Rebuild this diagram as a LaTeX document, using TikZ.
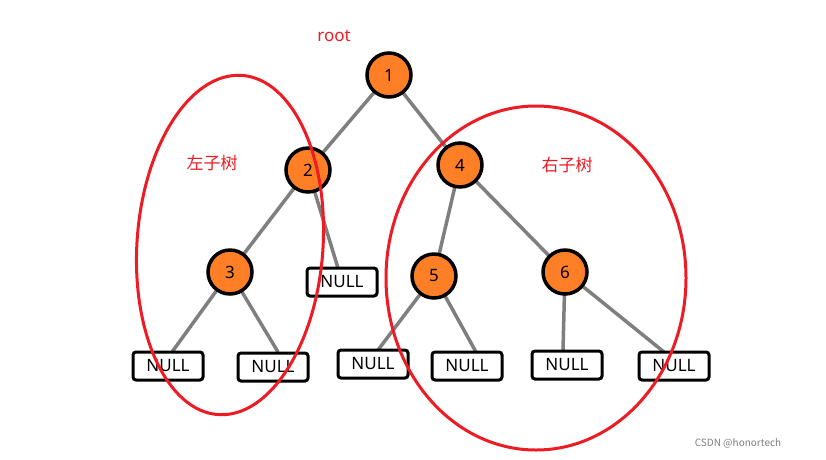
\documentclass[tikz,border=0pt]{standalone}
\usepackage{fontspec}
\setmainfont{Noto Sans}
\newfontfamily\cjk{Noto Sans CJK SC}
\definecolor{nodeor}{RGB}{255,127,39}
\definecolor{edgegr}{RGB}{127,127,127}
\definecolor{mark}{RGB}{237,28,36}
\begin{document}
\begin{tikzpicture}[x=1pt,y=-1pt,
  num/.style={circle, draw=black, line width=3.5pt, fill=nodeor, minimum size=44pt, inner sep=0pt, font=\fontsize{17}{17}\selectfont},
  nul/.style={draw=black, line width=3pt, rounded corners=3pt, fill=white, minimum width=70pt, minimum height=28pt, inner sep=0pt, font=\fontsize{17}{17}\selectfont},
  edge/.style={draw=edgegr, line width=3.5pt},
  ring/.style={draw=mark, line width=3pt},
  lbl/.style={text=mark, font=\cjk\fontsize{17}{17}\selectfont}]
\useasboundingbox (0,0) rectangle (826,459);
\fill[white] (0,0) rectangle (826,459);
% edges first
\coordinate (e1) at (389,75);
\coordinate (e2) at (308,170);
\coordinate (e4) at (460,165);
\coordinate (e3) at (230,272);
\coordinate (e5) at (434,276);
\coordinate (e6) at (565,272);
\draw[edge] (e1) -- (e2);
\draw[edge] (e1) -- (e4);
\draw[edge] (e2) -- (e3);
\draw[edge] (e2) -- (338,268);
\draw[edge] (e4) -- (e5);
\draw[edge] (e4) -- (e6);
\draw[edge] (e3) -- (172,352);
\draw[edge] (e3) -- (278,352);
\draw[edge] (e5) -- (378,350);
\draw[edge] (e5) -- (476,352);
\draw[edge] (e6) -- (563,350);
\draw[edge] (e6) -- (664,352);
% tree nodes
\node[num] (n1) at (e1) {1};
\node[num] (n2) at (e2) {2};
\node[num] (n4) at (e4) {4};
\node[num] (n3) at (e3) {3};
\node[num] (n5) at (e5) {5};
\node[num] (n6) at (e6) {6};
\node[nul] (a) at (342,282) {NULL};
\node[nul] (b) at (168,366) {NULL};
\node[nul] (c) at (273,367) {NULL};
\node[nul] (d) at (373,364) {NULL};
\node[nul] (e) at (467,366) {NULL};
\node[nul] (f) at (567,365) {NULL};
\node[nul] (g) at (674,366) {NULL};
% subtree marks
\draw[ring, rotate around={-4:(230,245)}] (230,245) ellipse [x radius=93, y radius=170];
\draw[ring] (536,278) ellipse [x radius=150, y radius=172];
\node[text=mark, font=\fontsize{17}{17}\selectfont] (root) at (334,36) {root};
\node[lbl] (lt) at (212,163) {左子树};
\node[lbl] (rt) at (567,165) {右子树};
\node[text=gray, font=\cjk\fontsize{10}{10}\selectfont] (wm) at (738,443) {CSDN @honortech};
\end{tikzpicture}
\end{document}
